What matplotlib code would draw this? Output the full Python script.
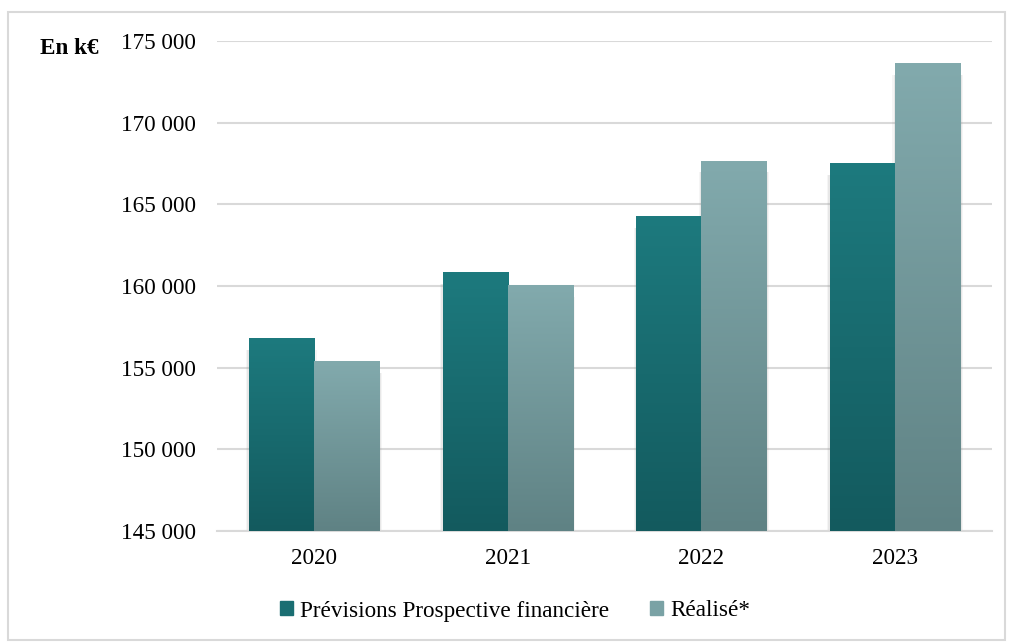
import numpy as np
import matplotlib.pyplot as plt
from matplotlib.colors import LinearSegmentedColormap
from matplotlib.patches import Rectangle

plt.rcParams['font.family'] = ['Liberation Serif', 'DejaVu Serif']

years = ['2020', '2021', '2022', '2023']
previsions = [156800, 160850, 164250, 167500]
realise = [155350, 160050, 167650, 173600]
series_names = ['Prévisions Prospective financière', 'Réalisé*']

# gradient colours (bottom -> top)
cmap_prev = LinearSegmentedColormap.from_list('prev', ['#135a5e', '#1d7a7e'])
cmap_real = LinearSegmentedColormap.from_list('real', ['#5f8284', '#82aaad'])

fs = 16.7

fig = plt.figure(figsize=(10.09, 6.42), dpi=100)
ax = fig.add_axes([217 / 1009, 1 - 531 / 642, (992 - 217) / 1009, (531 - 41) / 642])

ymin, ymax = 145000, 175000
x = np.arange(len(years))
w = 0.336

bars_prev = ax.bar(x - w / 2, previsions, w, bottom=0, color='#1a6e72', zorder=3,
                   label=series_names[0])
bars_real = ax.bar(x + w / 2, realise, w, bottom=0, color='#7aa2a5', zorder=3,
                   label=series_names[1])

grad = np.linspace(0, 1, 256).reshape(-1, 1)
for bars, cmap in [(bars_prev, cmap_prev), (bars_real, cmap_real)]:
    for b in bars:
        x0 = b.get_x()
        x1 = x0 + b.get_width()
        top = b.get_height()
        # soft shadow on the sides
        for k, a in [(0.014, 0.08), (0.008, 0.12)]:
            ax.add_patch(Rectangle((x0 - k, ymin), b.get_width() + 2 * k, top - ymin - 700,
                                   color='#888888', alpha=a, lw=0, zorder=2))
        ax.imshow(grad, extent=[x0, x1, ymin, top], origin='lower', aspect='auto',
                  cmap=cmap, zorder=4)

ax.set_xlim(-0.5, 3.5)
ax.set_ylim(ymin, ymax)
ax.set_yticks(np.arange(145000, 175001, 5000))
ax.set_yticklabels([f'{v:,}'.replace(',', ' ') for v in range(145000, 175001, 5000)])
ax.set_xticks(x)
ax.set_xticklabels(years)
ax.tick_params(axis='both', length=0, labelsize=fs, colors='#000000')
ax.tick_params(axis='y', pad=15)
ax.tick_params(axis='x', pad=12)
ax.grid(axis='y', color='#d9d9d9', lw=1.5, zorder=0)
for s in ['top', 'right', 'left']:
    ax.spines[s].set_visible(False)
ax.spines['bottom'].set_color('#d9d9d9')
ax.spines['bottom'].set_linewidth(1.5)

fig.text(40 / 1009, 1 - 48 / 642, 'En k€', fontsize=fs, fontweight='bold', va='center')

h = [Rectangle((0, 0), 1, 1, color='#1a6e72'), Rectangle((0, 0), 1, 1, color='#7aa2a5')]
fig.legend(h, series_names, loc='center', bbox_to_anchor=(515 / 1009, 1 - 611 / 642),
           ncol=2, frameon=False, fontsize=fs, handlelength=0.55, handleheight=0.55,
           handletextpad=0.3, columnspacing=1.8)

fig.patches.append(Rectangle((8 / 1009, 0.003), 997 / 1009, 0.978, transform=fig.transFigure,
                             fill=False, edgecolor='#d9d9d9', lw=1.5))

plt.savefig('out.png', dpi=100)
